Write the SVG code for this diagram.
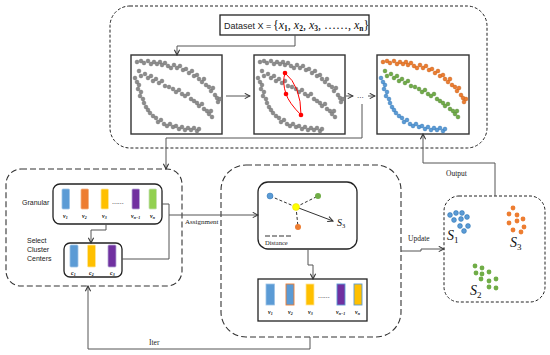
<svg xmlns="http://www.w3.org/2000/svg" width="550" height="355" viewBox="0 0 550 355">
<style>
.dashA{fill:none;stroke:#222;stroke-width:1;stroke-dasharray:3,2}
.dashB{fill:none;stroke:#333;stroke-width:1.1;stroke-dasharray:6,3}
.solid{fill:#fff;stroke:#222;stroke-width:1.3}
.panel{fill:#fff;stroke:#333;stroke-width:1.4}
.conn{fill:none;stroke:#555;stroke-width:1}
.lbl{font-family:"Liberation Sans",Arial,sans-serif;fill:#222}
.ser{font-family:"Liberation Serif","Times New Roman",serif;fill:#222}
.math{font-family:"Liberation Serif","Times New Roman",serif;font-style:italic;fill:#111}
.sub{font-style:normal;font-weight:bold}
.vl{font-family:"Liberation Serif","Times New Roman",serif;font-style:italic;font-weight:bold;font-size:6px;fill:#111}
.blue{fill:#5B9BD5;stroke:#9DC3E6;stroke-width:0.8}
.orange{fill:#ED7D31;stroke:#F4B183;stroke-width:0.8}
.yellow{fill:#FFC000;stroke:#FFE699;stroke-width:0.8}
.purple{fill:#7030A0;stroke:#B4A7D6;stroke-width:0.8}
.lgreen{fill:#92D050;stroke:#C5E0B4;stroke-width:0.8}
</style>
<defs>
<marker id="arr" viewBox="0 0 8 8" refX="7" refY="4" markerWidth="7" markerHeight="7" markerUnits="userSpaceOnUse" orient="auto">
<path d="M1,1 L7,4 L1,7" fill="none" stroke="#333" stroke-width="1.2"/>
</marker>
<g id="bandA">
<circle cx="6" cy="7" r="1.9"/><circle cx="10" cy="6" r="1.9"/><circle cx="13" cy="8" r="1.9"/><circle cx="17" cy="6" r="1.9"/><circle cx="20" cy="9" r="1.9"/><circle cx="23" cy="7" r="1.9"/><circle cx="26" cy="9" r="1.9"/><circle cx="29" cy="7" r="1.9"/><circle cx="31" cy="10" r="1.9"/><circle cx="34" cy="8" r="1.9"/><circle cx="37" cy="11" r="1.9"/><circle cx="40" cy="13" r="1.9"/><circle cx="43" cy="10" r="1.9"/><circle cx="46" cy="13" r="1.9"/><circle cx="49" cy="11" r="1.9"/><circle cx="52" cy="15" r="1.9"/><circle cx="55" cy="14" r="1.9"/><circle cx="58" cy="18" r="1.9"/><circle cx="61" cy="16" r="1.9"/><circle cx="63" cy="21" r="1.9"/><circle cx="66" cy="20" r="1.9"/><circle cx="68" cy="24" r="1.9"/><circle cx="71" cy="27" r="1.9"/><circle cx="73" cy="24" r="1.9"/><circle cx="75" cy="30" r="1.9"/><circle cx="78" cy="32" r="1.9"/><circle cx="80" cy="36" r="1.9"/><circle cx="82" cy="33" r="1.9"/><circle cx="84" cy="40" r="1.9"/><circle cx="86" cy="43" r="1.9"/><circle cx="87" cy="47" r="1.9"/><circle cx="89" cy="44" r="1.9"/>
</g>
<g id="bandB">
<circle cx="8" cy="16" r="1.9"/><circle cx="10" cy="21" r="1.9"/><circle cx="14" cy="19" r="1.9"/><circle cx="17" cy="23" r="1.9"/><circle cx="20" cy="21" r="1.9"/><circle cx="22" cy="26" r="1.9"/><circle cx="25" cy="24" r="1.9"/><circle cx="28" cy="28" r="1.9"/><circle cx="31" cy="26" r="1.9"/><circle cx="34" cy="31" r="1.9"/><circle cx="38" cy="32" r="1.9"/><circle cx="42" cy="34" r="1.9"/><circle cx="45" cy="37" r="1.9"/><circle cx="48" cy="35" r="1.9"/><circle cx="51" cy="39" r="1.9"/><circle cx="54" cy="41" r="1.9"/><circle cx="57" cy="39" r="1.9"/><circle cx="60" cy="44" r="1.9"/><circle cx="63" cy="46" r="1.9"/><circle cx="66" cy="48" r="1.9"/><circle cx="68" cy="51" r="1.9"/><circle cx="71" cy="49" r="1.9"/><circle cx="73" cy="54" r="1.9"/><circle cx="76" cy="56" r="1.9"/><circle cx="78" cy="59" r="1.9"/><circle cx="80" cy="56" r="1.9"/><circle cx="81" cy="62" r="1.9"/>
</g>
<g id="bandC">
<circle cx="4" cy="23" r="1.9"/><circle cx="6" cy="27" r="1.9"/><circle cx="8" cy="30" r="1.9"/><circle cx="7" cy="34" r="1.9"/><circle cx="10" cy="37" r="1.9"/><circle cx="9" cy="41" r="1.9"/><circle cx="12" cy="44" r="1.9"/><circle cx="13" cy="48" r="1.9"/><circle cx="15" cy="52" r="1.9"/><circle cx="17" cy="55" r="1.9"/><circle cx="19" cy="58" r="1.9"/><circle cx="22" cy="61" r="1.9"/><circle cx="25" cy="63" r="1.9"/><circle cx="27" cy="67" r="1.9"/><circle cx="30" cy="65" r="1.9"/><circle cx="33" cy="69" r="1.9"/><circle cx="36" cy="71" r="1.9"/><circle cx="39" cy="69" r="1.9"/><circle cx="42" cy="72" r="1.9"/><circle cx="45" cy="71" r="1.9"/><circle cx="48" cy="74" r="1.9"/><circle cx="51" cy="72" r="1.9"/><circle cx="54" cy="75" r="1.9"/><circle cx="57" cy="73" r="1.9"/><circle cx="60" cy="75" r="1.9"/><circle cx="63" cy="73" r="1.9"/><circle cx="66" cy="76" r="1.9"/><circle cx="68" cy="74" r="1.9"/>
</g>
</defs>

<rect x="0" y="0" width="550" height="355" fill="#fff"/>

<g id="top-panel">
<rect class="dashA" x="110" y="6" width="377" height="142" rx="20"/>
</g>

<g id="dataset">
<rect class="solid" x="220" y="15" width="149" height="20"/>
<text class="lbl" x="224" y="28.5" font-size="9">Dataset X =</text>
<text class="math" x="273" y="29" font-size="12"><tspan font-style="normal">{</tspan>x<tspan class="sub" font-size="7.5" dy="2">1</tspan><tspan font-style="normal" dy="-2">, </tspan>x<tspan class="sub" font-size="7.5" dy="2">2</tspan><tspan font-style="normal" dy="-2">, </tspan>x<tspan class="sub" font-size="7.5" dy="2">3</tspan><tspan font-style="normal" dy="-2">, ……, </tspan>x<tspan class="sub" font-size="7.5" dy="2">n</tspan><tspan font-style="normal" dy="-2">}</tspan></text>
</g>

<g id="scatter-raw">
<rect class="panel" x="131" y="55" width="91" height="79"/>
<g transform="translate(131,55)" fill="#8c8c8c" stroke="#6e6e6e" stroke-width="0.5">
<use href="#bandA"/><use href="#bandB"/><use href="#bandC"/>
</g>
</g>

<g id="scatter-step">
<rect class="panel" x="254" y="55" width="91" height="79"/>
<g transform="translate(254,55)" fill="#8c8c8c" stroke="#6e6e6e" stroke-width="0.5">
<use href="#bandA"/><use href="#bandB"/><use href="#bandC"/>
</g>
<path d="M285,73 Q301,86 301,115 Q289,103 286,94 Q282,82 285,73 Z" fill="none" stroke="#FF0000" stroke-width="1"/>
<circle cx="285" cy="73" r="2.3" fill="#FF0000"/>
<circle cx="286" cy="94" r="2.3" fill="#FF0000"/>
<circle cx="301" cy="115" r="2.3" fill="#FF0000"/>
</g>

<g id="scatter-result">
<rect class="panel" x="377" y="55" width="92" height="79"/>
<g transform="translate(377,55)" stroke-width="0.5">
<use href="#bandA" fill="#ED7D31" stroke="#C55A11"/>
<use href="#bandB" fill="#70AD47" stroke="#548235"/>
<use href="#bandC" fill="#5B9BD5" stroke="#2E75B6"/>
</g>
</g>

<g id="granular-box">
<rect class="dashB" x="6" y="169" width="176" height="117" rx="15"/>
<rect class="solid" x="53" y="184" width="109" height="40" rx="7"/>
<text class="lbl" x="22" y="205" font-size="7">Granular</text>
<rect class="blue" x="62" y="189" width="7.5" height="20" rx="1"/>
<rect class="orange" x="81" y="189" width="7.5" height="20" rx="1"/>
<rect class="yellow" x="101" y="189" width="7.5" height="20" rx="1"/>
<text class="lbl" x="112" y="204" font-size="7">......</text>
<rect class="purple" x="132" y="189" width="7.5" height="20" rx="1"/>
<rect class="lgreen" x="149" y="189" width="7.5" height="20" rx="1"/>
<text class="vl" x="63" y="218">v<tspan font-size="4" dy="1">1</tspan></text>
<text class="vl" x="82" y="218">v<tspan font-size="4" dy="1">2</tspan></text>
<text class="vl" x="102" y="218">v<tspan font-size="4" dy="1">3</tspan></text>
<text class="vl" x="131" y="218">v<tspan font-size="4" dy="1">n−1</tspan></text>
<text class="vl" x="150" y="218">v<tspan font-size="4" dy="1">n</tspan></text>
</g>

<g id="select-centers">
<text class="lbl" x="27" y="243" font-size="7">Select</text>
<text class="lbl" x="27" y="252" font-size="7">Cluster</text>
<text class="lbl" x="27" y="261" font-size="7">Centers</text>
<rect class="solid" x="64" y="243" width="58" height="34" rx="6"/>
<rect class="blue" x="70" y="245" width="8" height="22" rx="1"/>
<rect class="yellow" x="87.5" y="245" width="8" height="22" rx="1"/>
<rect class="purple" x="108" y="245" width="8" height="22" rx="1"/>
<text class="vl" x="71" y="274.5">c<tspan font-size="4" dy="1">1</tspan></text>
<text class="vl" x="89" y="274.5">c<tspan font-size="4" dy="1">2</tspan></text>
<text class="vl" x="110" y="274.5">c<tspan font-size="4" dy="1">3</tspan></text>
</g>

<g id="assignment-box">
<rect class="dashB" x="221" y="165" width="180" height="172" rx="25"/>
</g>

<g id="distance-box">
<rect class="solid" x="258" y="182" width="99" height="67" rx="10"/>
<g stroke="#333" stroke-width="1" stroke-dasharray="3,2">
<line x1="296" y1="207" x2="270" y2="196"/>
<line x1="296" y1="207" x2="318" y2="196"/>
<line x1="296" y1="207" x2="298" y2="227"/>
</g>
<line x1="296" y1="207" x2="333" y2="221" stroke="#333" stroke-width="1" marker-end="url(#arr)"/>
<circle cx="270" cy="196" r="3" fill="#5B9BD5" stroke="#2E75B6" stroke-width="0.5"/>
<circle cx="318" cy="196" r="3" fill="#70AD47"/>
<circle cx="298" cy="227" r="3" fill="#ED7D31"/>
<circle cx="296" cy="207" r="3.5" fill="#FFFF00" stroke="#E6D800" stroke-width="0.5"/>
<text class="math" x="337" y="226" font-size="10">S<tspan font-size="6.5" font-style="normal" dy="1.5">3</tspan></text>
<line x1="265" y1="236" x2="293" y2="236" stroke="#333" stroke-width="1.2" stroke-dasharray="5,2"/>
<text class="ser" x="265" y="245" font-size="6.5" fill="#444">Distance</text>
</g>

<g id="updated-granules">
<rect class="solid" x="258" y="279" width="109" height="42"/>
<rect class="blue" x="266" y="284" width="8.5" height="21"/>
<rect x="286" y="284" width="8" height="21" fill="#5B9BD5" stroke="#ED7D31" stroke-width="0.9"/>
<rect class="yellow" x="306" y="284" width="8" height="21"/>
<text class="lbl" x="318" y="298" font-size="7">......</text>
<rect x="337" y="284" width="8" height="21" fill="#7030A0" stroke="#5B9BD5" stroke-width="0.9"/>
<rect x="354" y="284" width="8" height="21" fill="#FFC000" stroke="#5B9BD5" stroke-width="0.9"/>
<text class="vl" x="268" y="314">v<tspan font-size="4" dy="1">1</tspan></text>
<text class="vl" x="288" y="314">v<tspan font-size="4" dy="1">2</tspan></text>
<text class="vl" x="308" y="314">v<tspan font-size="4" dy="1">3</tspan></text>
<text class="vl" x="336" y="314">v<tspan font-size="4" dy="1">n−1</tspan></text>
<text class="vl" x="355" y="314">v<tspan font-size="4" dy="1">n</tspan></text>
</g>

<g id="clusters">
<rect class="dashA" x="444" y="196" width="101" height="106" rx="15"/>
<g fill="#5B9BD5" stroke="#2E75B6" stroke-width="0.6">
<circle cx="450" cy="215" r="2.4"/><circle cx="456" cy="213" r="2.4"/><circle cx="462" cy="213" r="2.4"/><circle cx="454" cy="220" r="2.4"/><circle cx="461" cy="219" r="2.4"/><circle cx="467" cy="217" r="2.4"/><circle cx="460" cy="226" r="2.4"/><circle cx="468" cy="226" r="2.4"/><circle cx="464" cy="231" r="2.4"/>
</g>
<g fill="#ED7D31">
<circle cx="513" cy="208" r="2.4"/><circle cx="509" cy="214" r="2.4"/><circle cx="517" cy="215" r="2.4"/><circle cx="509" cy="223" r="2.4"/><circle cx="517" cy="221" r="2.4"/><circle cx="523" cy="219" r="2.4"/><circle cx="513" cy="230" r="2.4"/><circle cx="524" cy="227" r="2.4"/><circle cx="521" cy="232" r="2.4"/>
</g>
<g fill="#70AD47">
<circle cx="475" cy="266" r="2.4"/><circle cx="482" cy="268" r="2.4"/><circle cx="476" cy="273" r="2.4"/><circle cx="482" cy="274" r="2.4"/><circle cx="489" cy="272" r="2.4"/><circle cx="481" cy="279" r="2.4"/><circle cx="489" cy="281" r="2.4"/><circle cx="496" cy="279" r="2.4"/><circle cx="489" cy="287" r="2.4"/><circle cx="496" cy="288" r="2.4"/>
</g>
<text class="math" x="447" y="240" font-size="14">S<tspan font-size="9" font-style="normal" dy="3">1</tspan></text>
<text class="math" x="510" y="247" font-size="14">S<tspan font-size="9" font-style="normal" dy="3">3</tspan></text>
<text class="math" x="470" y="295" font-size="14">S<tspan font-size="9" font-style="normal" dy="3">2</tspan></text>
</g>

<g id="connectors">
<path class="conn" d="M295,35 V46 H177 V55" marker-end="url(#arr)"/>
<path class="conn" d="M226,96 H250" marker-end="url(#arr)"/>
<path class="conn" d="M346,96 H353" marker-end="url(#arr)"/>
<text class="lbl" x="357" y="98" font-size="8">...</text>
<path class="conn" d="M368,96 H375" marker-end="url(#arr)"/>
<path class="conn" d="M362,104 V138 H166 V169" stroke="#888" marker-end="url(#arr)"/>
<path class="conn" d="M106,224 V230 H91 V243" marker-end="url(#arr)"/>
<path class="conn" d="M162,204 H169 V259 H122"/>
<path class="conn" d="M169,215 H258" marker-end="url(#arr)"/>
<text class="ser" x="185" y="224" font-size="7">Assignment</text>
<path class="conn" d="M308,249 V265 H313 V279" marker-end="url(#arr)"/>
<path class="conn" d="M401,251 H421 V249 H444" marker-end="url(#arr)"/>
<text class="ser" x="408" y="241" font-size="7.5">Update</text>
<path class="conn" d="M495,196 V163 H423 V134" marker-end="url(#arr)"/>
<text class="ser" x="446" y="176" font-size="7.5">Output</text>
<path class="conn" d="M310,337 V349 H88 V286" marker-end="url(#arr)"/>
<text class="ser" x="149" y="345" font-size="7.5">Iter</text>
</g>
</svg>
